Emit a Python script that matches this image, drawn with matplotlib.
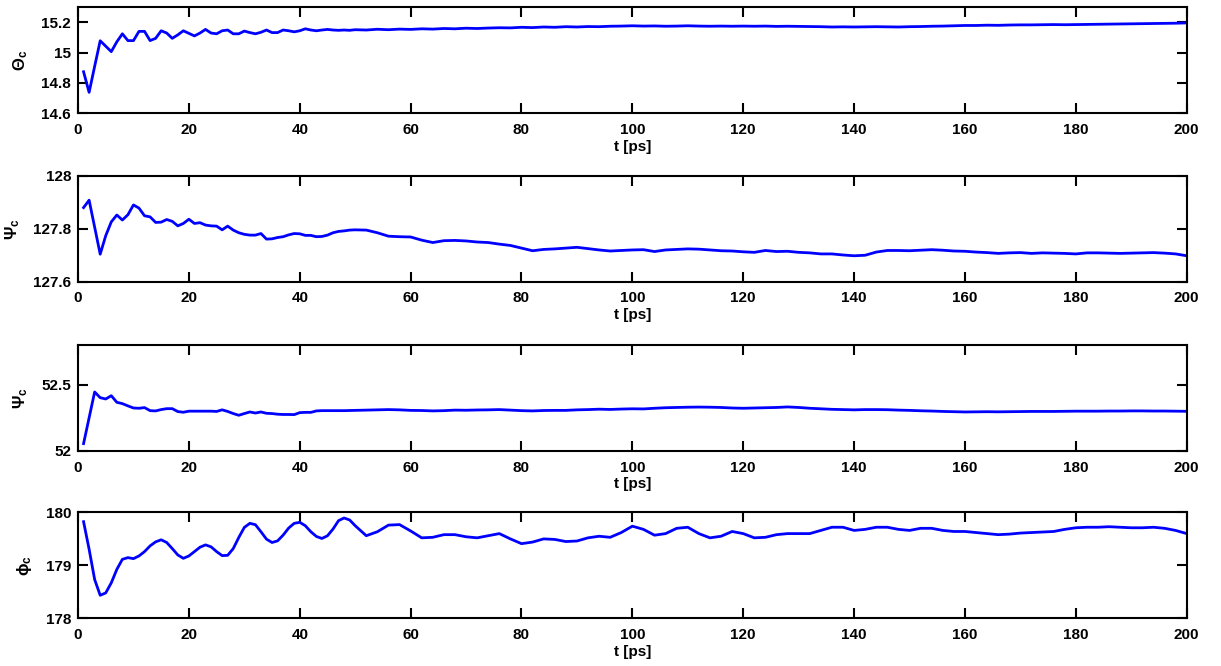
import numpy as np
import matplotlib
matplotlib.use("Agg")
import matplotlib.pyplot as plt

plt.rcParams['font.family'] = ['Liberation Sans', 'DejaVu Sans']
plt.rcParams['font.weight'] = 'bold'
plt.rcParams['axes.labelweight'] = 'bold'
plt.rcParams['mathtext.fontset'] = 'custom'
plt.rcParams['mathtext.rm'] = 'Liberation Sans'
plt.rcParams['mathtext.bf'] = 'Liberation Sans:bold'
plt.rcParams['mathtext.it'] = 'Liberation Sans:italic'

# time axis: every ps up to 50, then every 2 ps
t = list(range(1, 51)) + list(range(52, 201, 2))

theta = [14.874, 14.738, 14.91, 15.079, 15.043, 15.007, 15.072, 15.125, 15.08, 15.08,
         15.141, 15.141, 15.08, 15.095, 15.145, 15.13, 15.095, 15.118, 15.145, 15.128,
         15.111, 15.13, 15.154, 15.13, 15.125, 15.145, 15.15, 15.125, 15.125, 15.143,
         15.133, 15.125, 15.135, 15.15, 15.133, 15.133, 15.15, 15.145, 15.138, 15.145,
         15.158, 15.15, 15.145, 15.15, 15.154, 15.15, 15.148, 15.15, 15.148, 15.152,
         15.15, 15.155, 15.152, 15.156, 15.154, 15.158, 15.156, 15.16, 15.158, 15.162,
         15.16, 15.163, 15.165, 15.164, 15.168, 15.166, 15.17, 15.168, 15.172, 15.17,
         15.173, 15.172, 15.175, 15.176, 15.178, 15.176, 15.177, 15.175, 15.176, 15.178,
         15.176, 15.175, 15.176, 15.175, 15.176, 15.175, 15.176, 15.174, 15.175, 15.174,
         15.173, 15.172, 15.17, 15.171, 15.17, 15.171, 15.172, 15.171, 15.17, 15.172,
         15.173, 15.175, 15.176, 15.178, 15.18, 15.18, 15.182, 15.181, 15.183, 15.184,
         15.184, 15.185, 15.186, 15.185, 15.186, 15.187, 15.188, 15.189, 15.19, 15.191,
         15.192, 15.193, 15.194, 15.195, 15.197]

psi1 = [127.88, 127.908, 127.806, 127.704, 127.774, 127.826, 127.852, 127.833, 127.853, 127.89,
        127.878, 127.849, 127.845, 127.824, 127.825, 127.835, 127.828, 127.811, 127.82, 127.836,
        127.82, 127.823, 127.814, 127.811, 127.81, 127.796, 127.81, 127.795, 127.785, 127.779,
        127.776, 127.776, 127.782, 127.761, 127.762, 127.767, 127.77, 127.777, 127.782, 127.781,
        127.775, 127.775, 127.77, 127.771, 127.776, 127.785, 127.79, 127.792, 127.795, 127.796,
        127.795, 127.785, 127.772, 127.77, 127.769, 127.757, 127.748, 127.755, 127.756, 127.754,
        127.75, 127.748, 127.742, 127.737, 127.727, 127.717, 127.722, 127.724, 127.727, 127.73,
        127.725, 127.72, 127.716, 127.718, 127.72, 127.721, 127.714, 127.72, 127.722, 127.724,
        127.723, 127.72, 127.717, 127.716, 127.713, 127.711, 127.718, 127.714, 127.715, 127.711,
        127.709, 127.705, 127.705, 127.701, 127.698, 127.7, 127.712, 127.718, 127.718, 127.717,
        127.719, 127.721, 127.719, 127.716, 127.715, 127.712, 127.71, 127.707, 127.709, 127.71,
        127.707, 127.709, 127.708, 127.707, 127.705, 127.709, 127.709, 127.708, 127.707, 127.708,
        127.709, 127.71, 127.708, 127.705, 127.698]

psi2 = [52.055, 52.25, 52.445, 52.402, 52.392, 52.417, 52.367, 52.357, 52.34, 52.324,
        52.322, 52.327, 52.304, 52.302, 52.312, 52.319, 52.319, 52.297, 52.292, 52.3,
        52.3, 52.3, 52.3, 52.3, 52.298, 52.31, 52.298, 52.282, 52.269, 52.282,
        52.294, 52.286, 52.294, 52.284, 52.282, 52.277, 52.275, 52.275, 52.274, 52.289,
        52.291, 52.291, 52.302, 52.304, 52.304, 52.304, 52.304, 52.304, 52.305, 52.306,
        52.308, 52.31, 52.312, 52.31, 52.306, 52.305, 52.302, 52.304, 52.308, 52.307,
        52.309, 52.31, 52.312, 52.308, 52.304, 52.302, 52.305, 52.306, 52.306, 52.31,
        52.312, 52.315, 52.313, 52.316, 52.318, 52.317, 52.322, 52.326, 52.328, 52.33,
        52.331, 52.33, 52.328, 52.324, 52.322, 52.324, 52.326, 52.328, 52.332, 52.328,
        52.322, 52.318, 52.314, 52.312, 52.31, 52.312, 52.312, 52.311, 52.308, 52.306,
        52.303, 52.301, 52.298, 52.296, 52.294, 52.295, 52.296, 52.295, 52.296, 52.297,
        52.298, 52.298, 52.298, 52.299, 52.3, 52.3, 52.3, 52.301, 52.301, 52.302,
        52.302, 52.301, 52.301, 52.3, 52.299]

phi = [179.825, 179.305, 178.733, 178.435, 178.48, 178.67, 178.924, 179.114, 179.146, 179.127,
       179.178, 179.26, 179.368, 179.444, 179.483, 179.432, 179.317, 179.197, 179.133, 179.178,
       179.26, 179.343, 179.387, 179.35, 179.26, 179.184, 179.19, 179.317, 179.527, 179.717,
       179.794, 179.768, 179.635, 179.495, 179.432, 179.463, 179.571, 179.705, 179.794, 179.813,
       179.749, 179.635, 179.546, 179.508, 179.559, 179.686, 179.845, 179.895, 179.857, 179.749,
       179.56, 179.635, 179.76, 179.77, 179.65, 179.52, 179.53, 179.58, 179.58, 179.54,
       179.52, 179.56, 179.6, 179.5, 179.41, 179.44, 179.5, 179.49, 179.45, 179.46,
       179.52, 179.55, 179.53, 179.62, 179.74, 179.68, 179.57, 179.6, 179.7, 179.72,
       179.6, 179.52, 179.55, 179.64, 179.6, 179.52, 179.53, 179.58, 179.6, 179.6,
       179.6, 179.66, 179.72, 179.72, 179.66, 179.68, 179.72, 179.72, 179.68, 179.66,
       179.7, 179.7, 179.66, 179.64, 179.64, 179.62, 179.6, 179.58, 179.59, 179.61,
       179.62, 179.63, 179.64, 179.68, 179.71, 179.72, 179.72, 179.73, 179.72, 179.71,
       179.71, 179.72, 179.7, 179.66, 179.6]

ylabels = [r'$\Theta_\mathbf{c}$', r'$\Psi_\mathbf{c}$', r'$\Psi_\mathbf{c}$', r'$\mathrm{\phi}_\mathbf{c}$']
ylims = [(14.6, 15.3), (127.6, 128.0), (52.0, 52.8), (178.0, 180.0)]
yticks = [[14.6, 14.8, 15.0, 15.2], [127.6, 127.8, 128.0], [52.0, 52.5], [178, 179, 180]]
yticklabels = [['14.6', '14.8', '15', '15.2'], ['127.6', '127.8', '128'], ['52', '52.5'], ['178', '179', '180']]
xticks = np.arange(0, 201, 20)

fig = plt.figure(figsize=(12.21, 6.66), dpi=100)
bottoms = [0.830, 0.577, 0.323, 0.0716]
series = [theta, psi1, psi2, phi]

for i in range(4):
    ax = fig.add_axes([0.0639, bottoms[i], 0.908, 0.159])
    ax.plot(t, series[i], color='#0000ff', linewidth=2.0)
    ax.set_xlim(0, 200)
    ax.set_ylim(*ylims[i])
    ax.set_xticks(xticks)
    ax.set_yticks(yticks[i])
    ax.set_yticklabels(yticklabels[i])
    ax.tick_params(direction='in', length=7, width=1.5, top=True, right=True,
                   labelsize=11, pad=5)
    ax.tick_params(axis='x', pad=7)
    for s in ax.spines.values():
        s.set_linewidth(1.5)
    ax.set_xlabel('t [ps]', fontsize=11, labelpad=2)
    ax.set_ylabel(ylabels[i], fontsize=12, labelpad=8)

plt.savefig('out.png', dpi=100)
